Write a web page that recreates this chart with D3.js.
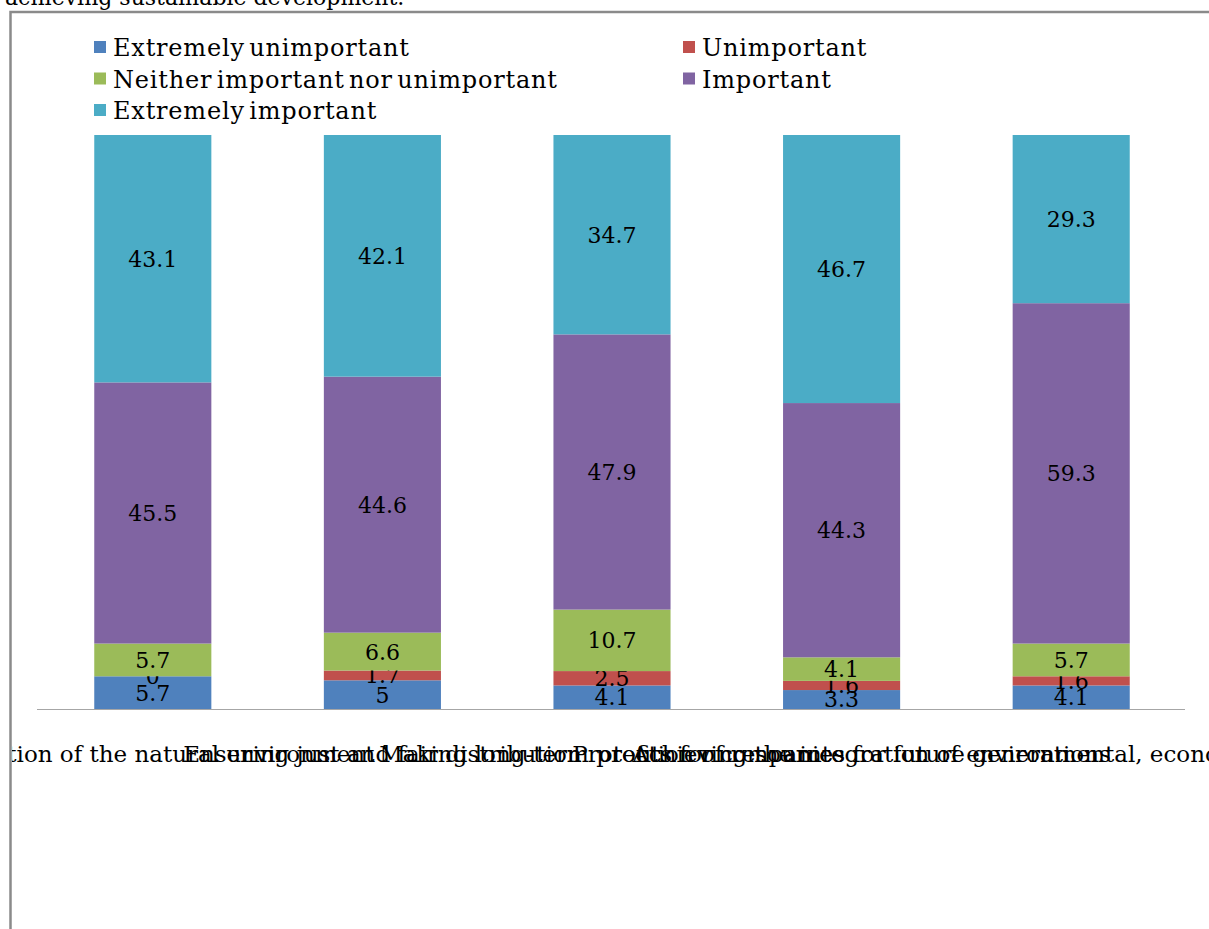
<!DOCTYPE html>
<html>
<head>
<meta charset="utf-8">
<script src="https://cdn.jsdelivr.net/npm/d3@7"></script>
<style>
  html, body { margin: 0; padding: 0; background: #ffffff; }
  svg { display: block; }
  text { font-family: "DejaVu Serif", "Liberation Serif", serif; fill: #000; }
</style>
</head>
<body>
<svg id="chart" width="1209" height="929"></svg>
<script>
// Survey categories (one bar each)
const categories = [
  "Protection of the natural environment",
  "Ensuring just and fair distribution",
  "Making long-term profits for companies",
  "Protection of resources for future generations",
  "Achieving the integration of environmental, economic and social objectives"
];

// Answer levels, stacked bottom to top
const seriesNames = [
  "Extremely unimportant",
  "Unimportant",
  "Neither important nor unimportant",
  "Important",
  "Extremely important"
];

// Percentages per answer level, one value per category
const extremelyUnimportant = [5.7, 5, 4.1, 3.3, 4.1];
const unimportant          = [0, 1.7, 2.5, 1.6, 1.6];
const neither              = [5.7, 6.6, 10.7, 4.1, 5.7];
const important            = [45.5, 44.6, 47.9, 44.3, 59.3];
const extremelyImportant   = [43.1, 42.1, 34.7, 46.7, 29.3];

const seriesColors = ["#4F81BD", "#C0504D", "#9BBB59", "#8064A2", "#4BACC6"];

const seriesValues = [extremelyUnimportant, unimportant, neither, important, extremelyImportant];

// Row table for d3.stack
const rows = categories.map((c, i) => {
  const r = { category: c };
  seriesNames.forEach((s, j) => { r[s] = seriesValues[j][i]; });
  return r;
});

const svg = d3.select("#chart");

// Document text line above the chart frame
svg.append("text")
  .attr("x", 5).attr("y", 5)
  .style("font-size", "22px")
  .text("achieving sustainable development.");

// Chart frame
svg.append("rect")
  .attr("x", 10.5).attr("y", 12)
  .attr("width", 1300).attr("height", 1000)
  .attr("fill", "#ffffff")
  .attr("stroke", "#8a8a8a")
  .attr("stroke-width", 2.5);

svg.append("defs").append("clipPath").attr("id", "frameClip")
  .append("rect").attr("x", 12).attr("y", 13).attr("width", 1300).attr("height", 1000);

const plot = svg.append("g").attr("clip-path", "url(#frameClip)");

// Scales
const x = d3.scaleBand()
  .domain(categories)
  .range([38, 1186])
  .paddingInner(0.49)
  .paddingOuter(0.245);

const y = d3.scaleLinear().domain([0, 1]).range([709, 135]);

// 100% stacked layout
const stack = d3.stack().keys(seriesNames).offset(d3.stackOffsetExpand);
const stacked = stack(rows);

const layers = plot.selectAll("g.layer")
  .data(stacked)
  .join("g")
  .attr("class", "layer")
  .attr("fill", (d, i) => seriesColors[i]);

layers.selectAll("rect")
  .data(d => d)
  .join("rect")
  .attr("x", d => x(d.data.category))
  .attr("width", x.bandwidth())
  .attr("y", d => y(d[1]))
  .attr("height", d => y(d[0]) - y(d[1]));

// Category axis
const xAxis = d3.axisBottom(x).tickSize(0).tickPadding(0);
const axisG = plot.append("g")
  .attr("transform", "translate(0,709)")
  .call(xAxis);
axisG.select(".domain")
  .attr("stroke", "#a6a6a6")
  .attr("stroke-width", 1.2)
  .attr("d", "M37,0.5H1185");
axisG.selectAll(".tick text")
  .attr("y", 53)
  .attr("dy", 0)
  .style("font-family", "DejaVu Serif, serif")
  .style("font-size", "23px")
  .attr("fill", "#000");

// Value labels, centred in each segment
layers.each(function (layer, li) {
  d3.select(this).selectAll("text.val")
    .data(layer)
    .join("text")
    .attr("class", "val")
    .attr("x", d => x(d.data.category) + x.bandwidth() / 2)
    .attr("y", d => (y(d[0]) + y(d[1])) / 2)
    .attr("dy", "0.36em")
    .attr("text-anchor", "middle")
    .style("font-size", "22px")
    .attr("fill", "#000")
    .text((d, i) => seriesValues[li][i]);
});

// Legend: two columns, filled row by row
const legend = svg.append("g");
const legendItems = legend.selectAll("g")
  .data(seriesNames)
  .join("g")
  .attr("transform", (d, i) => {
    const col = i % 2, row = Math.floor(i / 2);
    return `translate(${col === 0 ? 94 : 683},${41 + row * 31.5})`;
  });
legendItems.append("rect")
  .attr("width", 12).attr("height", 12)
  .attr("fill", (d, i) => seriesColors[i]);
legendItems.append("text")
  .attr("x", 19).attr("y", 15)
  .style("font-size", "24px")
  .style("letter-spacing", "0.8px")
  .style("word-spacing", "-4px")
  .text(d => d);
</script>
</body>
</html>
